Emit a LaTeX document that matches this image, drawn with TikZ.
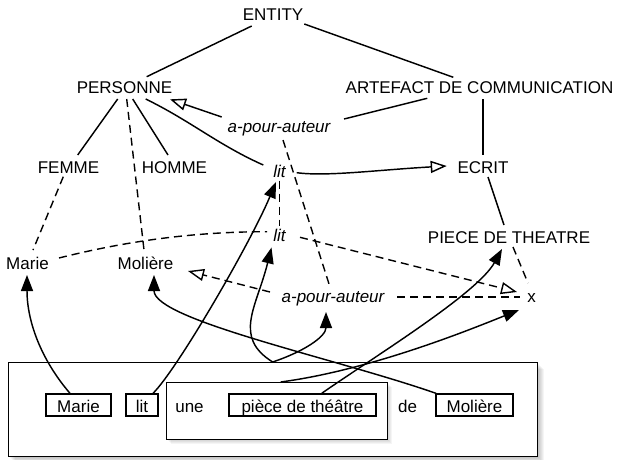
\documentclass[tikz,border=0pt]{standalone}
\usepackage{fontspec}
\setmainfont{Liberation Sans}
\usetikzlibrary{arrows.meta,calc}
\newcommand\myfnt{\fontsize{17pt}{20pt}\selectfont}
\tikzset{
  lbl/.style={font=\myfnt, inner sep=1pt, anchor=base},
  ilbl/.style={font=\myfnt\itshape, inner sep=1pt, anchor=base},
  wbox/.style={draw, line width=1.3pt, font=\myfnt, anchor=base, text height=14pt, text depth=0pt, inner ysep=4pt, inner xsep=0pt, fill=white},
  bigbox/.style={draw, line width=1.3pt, fill=white, anchor=north west, inner sep=0pt},
  ln/.style={line width=1.45pt},
  dsh/.style={line width=1.4pt, dash pattern=on 8pt off 5pt},
  sarr/.style={line width=1.45pt, -{Triangle[length=16pt,width=12pt]}},
  oarr/.style={-{Triangle[open,length=16pt,width=12pt]}},
}
\begin{document}
\begin{tikzpicture}[x=1pt,y=-1pt]
\useasboundingbox (0,0) rectangle (624,460);
\fill[white] (0,0) rectangle (624,460);
% shadows
\foreach \s in {1,...,7} {
  \fill[black,opacity=0.04] (8+\s,362+\s) rectangle (537+\s,456+\s);
}
\node[bigbox, minimum width=529pt, minimum height=94pt] (outer) at (8,362) {};
\foreach \s in {1,...,5} {
  \fill[black,opacity=0.04] (166+\s,382+\s) rectangle (387+\s,439+\s);
}
\node[bigbox, minimum width=221pt, minimum height=57pt] (inner) at (166,382) {};

% concept nodes
\node[lbl] (ENTITY) at (273,21) {ENTITY};
\node[lbl] (PERS) at (124.5,94) {PERSONNE};
\node[lbl] (ART) at (479.5,94) {ARTEFACT DE COMMUNICATION};
\node[ilbl] (apa1) at (279,132.5) {a-pour-auteur};
\node[lbl] (FEMME) at (68.5,173) {FEMME};
\node[lbl] (HOMME) at (174.5,173) {HOMME};
\node[ilbl] (lit1) at (279.5,177.5) {lit};
\node[lbl] (ECRIT) at (483,173) {ECRIT};
\node[ilbl] (lit2) at (279.5,241.5) {lit};
\node[lbl] (PIECE) at (509,243) {PIECE DE THEATRE};
\node[lbl] (Marie) at (27.5,269) {Marie};
\node[lbl] (Mol) at (145.5,269) {Molière};
\node[ilbl] (apa2) at (333,302) {a-pour-auteur};
\node[lbl] (x) at (531.5,302) {x};

% sentence
\node[wbox, minimum width=65pt] (bMarie) at (78.5,412) {Marie};
\node[wbox, minimum width=32pt] (blit) at (142,412) {lit};
\node[lbl] (une) at (189.5,412) {une};
\node[wbox, minimum width=147pt] (bpiece) at (302.5,412) {pièce de théâtre};
\node[lbl] (de) at (407.5,412) {de};
\node[wbox, minimum width=77pt] (bMol) at (474.5,412) {Molière};

% hierarchy
\draw[ln] ($(ENTITY.base)+(-21.3,5)$) -- ($(PERS.base)+(22.2,-17.3)$);
\draw[ln] ($(ENTITY.base)+(31.3,3)$) -- ($(ART.base)+(-26.2,-16.7)$);
\draw[ln] ($(PERS.base)+(-6.8,5)$) -- ($(FEMME.base)+(9.2,-18)$);
\draw[ln] ($(PERS.base)+(8.2,5)$) -- ($(HOMME.base)+(-6.5,-18)$);
\draw[dsh] ($(PERS.base)+(2.2,5)$) -- ($(Mol.base)+(-1.5,-19)$);
\draw[ln] ($(PERS.base)+(21.2,5)$) .. controls +(45,22) and +(-45,-20) .. ($(lit1.base)+(-16.2,-12.5)$);
\draw[ln,oarr] ($(apa1.base)+(-57.3,-15.5)$) -- ($(PERS.base)+(45.5,5.3)$);
\draw[ln] ($(ART.base)+(-52.2,4.3)$) -- ($(apa1.base)+(65,-13.5)$);
\draw[ln] ($(ART.base)+(3.5,5)$) -- ($(ECRIT.base)+(0,-18)$);
\draw[ln,oarr] ($(lit1.base)+(17.2,-4.8)$) .. controls +(30,4) and +(-70,4) .. ($(ECRIT.base)+(-36.3,-7)$);
\draw[ln] ($(ECRIT.base)+(5,4)$) -- ($(PIECE.base)+(-5,-18)$);

% instance level (dashed)
\draw[dsh] ($(FEMME.base)+(-5.2,3.7)$) -- ($(Marie.base)+(5.5,-19)$);
\draw[dsh] ($(lit1.base)+(-0.2,3)$) -- ($(lit2.base)+(-0.2,-16)$);
\draw[dsh] ($(apa1.base)+(4,7.5)$) -- ($(apa2.base)+(-3,-15)$);
\draw[dsh] ($(Marie.base)+(31.5,-11)$) .. controls +(60,-15) and +(-80,0) .. ($(lit2.base)+(-12.5,-9.8)$);
\draw[dsh,oarr] ($(lit2.base)+(20.5,-4.2)$) -- ($(x.base)+(-14.5,-10)$);
\draw[dsh,oarr] ($(apa2.base)+(-63,-10)$) -- ($(Mol.base)+(42.5,2)$);
\draw[dsh] ($(apa2.base)+(64,-5)$) -- ($(x.base)+(-11.5,-5)$);
\draw[dsh] ($(PIECE.base)+(4,4)$) -- ($(x.base)+(-3.5,-19)$);

% anchoring arrows
\draw[sarr] ($(bMarie.north)+(-8.5,0)$) .. controls +(-30,-35) and +(0,45) .. ($(Marie.base)+(-0.5,6)$);
\draw[sarr] ($(blit.north)+(11,0)$) .. controls +(25,-25) and +(-25,60) .. ($(lit1.base)+(-3.5,4.5)$);
\draw[sarr] ($(bMol.north west)+(0.7,0)$) .. controls +(-100,-35) and +(0,45) .. ($(Mol.base)+(8.5,6)$);
\draw[sarr] ($(outer.north)+(-0.5,0)$) .. controls +(-40,-25) and +(-15,60) .. ($(lit2.base)+(-8,6)$);
\draw[sarr] ($(outer.north)+(-0.5,0)$) .. controls +(30,-10) and +(0,25) .. ($(apa2.base)+(-7,10)$);
\draw[sarr] ($(inner.north)+(3.5,0)$) .. controls +(90,-12) and +(-50,20) .. ($(x.base)+(-12.5,8)$);
\draw[sarr] ($(bpiece.north)+(19.2,0)$) .. controls +(50,-35) and +(-25,45) .. ($(PIECE.base)+(-7,6)$);
\end{tikzpicture}
\end{document}
